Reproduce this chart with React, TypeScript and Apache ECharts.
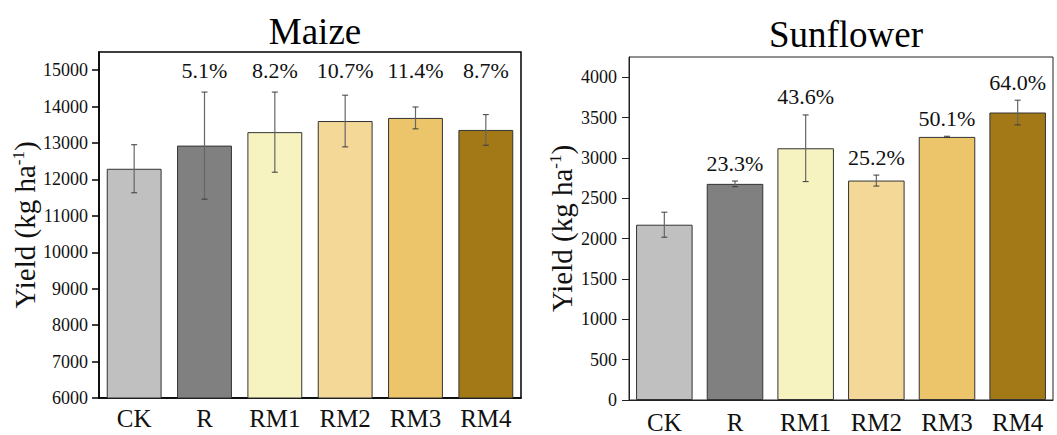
import React, { useEffect, useRef } from "react";
import * as echarts from "echarts";

const categories = ["CK", "R", "RM1", "RM2", "RM3", "RM4"];
const barColors = ["#C0C0C0", "#808080", "#F7F3C1", "#F3D898", "#ECC56B", "#A37816"];

const maizeYield = [12294, 12930, 13300, 13605, 13690, 13360];
const maizeErr = [660, 1470, 1100, 710, 300, 420];
const maizeIncrease = ["", "5.1%", "8.2%", "10.7%", "11.4%", "8.7%"];
const maizeTicks = [6000, 7000, 8000, 9000, 10000, 11000, 12000, 13000, 14000, 15000];

const sunYield = [2172, 2678, 3119, 2719, 3260, 3562];
const sunErr = [155, 35, 413, 68, 8, 153];
const sunIncrease = ["", "23.3%", "43.6%", "25.2%", "50.1%", "64.0%"];
const sunTicks = [0, 500, 1000, 1500, 2000, 2500, 3000, 3500, 4000];

const FONT = "Liberation Serif";

export default function App() {
  const ref = useRef<HTMLDivElement>(null);
  useEffect(() => {
    if (!ref.current) return;
    const chart = echarts.init(ref.current, null, { renderer: "svg" });

    const errRender = (params: any, api: any) => {
      const x = api.value(0);
      const lo = api.coord([x, api.value(1)]);
      const hi = api.coord([x, api.value(2)]);
      const hw = 3;
      const st = { stroke: "#3a3a3a", lineWidth: 1 };
      return {
        type: "group",
        children: [
          { type: "line", shape: { x1: hi[0], y1: hi[1], x2: lo[0], y2: lo[1] }, style: { stroke: "#666", lineWidth: 1.2 } },
          { type: "line", shape: { x1: hi[0] - hw, y1: hi[1], x2: hi[0] + hw, y2: hi[1] }, style: st },
          { type: "line", shape: { x1: lo[0] - hw, y1: lo[1], x2: lo[0] + hw, y2: lo[1] }, style: st },
        ],
      };
    };

    const labelRender = (fixedY: boolean) => (params: any, api: any) => {
      const idx = params.dataIndex;
      const p = api.coord([api.value(0), api.value(1)]);
      const text = fixedY ? maizeIncrease[idx] : sunIncrease[idx];
      return {
        type: "text",
        x: p[0],
        y: fixedY ? p[1] : p[1] - 7,
        style: {
          text,
          fontSize: 22,
          fontFamily: FONT,
          fill: "#111",
          align: "center",
          verticalAlign: fixedY ? "middle" : "bottom",
        },
      };
    };

    const xAxisCommon = {
      type: "category",
      data: categories,
      axisLine: { lineStyle: { color: "#000", width: 1.5 } },
      axisTick: { alignWithLabel: true, length: 6, lineStyle: { color: "#000", width: 1.5 } },
      axisLabel: { fontSize: 25, fontFamily: FONT, color: "#111" },
    };

    const nameStyle = {
      fontSize: 29,
      fontFamily: FONT,
      color: "#111",
      rich: {
        main: { fontSize: 29, fontFamily: FONT, color: "#111" },
        sup: { fontSize: 17, fontFamily: FONT, color: "#111", verticalAlign: "top" },
      },
    };

    const yAxisCommon = {
      type: "value",
      name: "{main|Yield (kg ha}{sup|-1}{main|)}",
      nameLocation: "middle",
      nameTextStyle: nameStyle,
      splitLine: { show: false },
      axisLine: { show: true, lineStyle: { color: "#000", width: 1.5 } },
    };

    const fmt = (v: number) => String(v);

    const option: any = {
      animation: false,
      backgroundColor: "#fff",
      textStyle: { fontFamily: FONT },
      graphic: [
        { type: "text", x: 315, y: 31, style: { text: "Maize", fontSize: 37, fontFamily: FONT, fill: "#000", align: "center", verticalAlign: "middle" } },
        { type: "text", x: 846, y: 34, style: { text: "Sunflower", fontSize: 37, fontFamily: FONT, fill: "#000", align: "center", verticalAlign: "middle" } },
      ],
      grid: [
        { left: 99, top: 52, width: 422, height: 346, show: true, borderColor: "#000", borderWidth: 1.5, backgroundColor: "transparent" },
        { left: 629, top: 57, width: 424, height: 346, show: true, borderColor: "#222", borderWidth: 1, backgroundColor: "transparent" },
      ],
      xAxis: [
        { ...xAxisCommon, gridIndex: 0, axisLabel: { ...xAxisCommon.axisLabel, margin: 8 } },
        { ...xAxisCommon, gridIndex: 1, axisLine: { lineStyle: { color: "#222", width: 1 } }, axisTick: { alignWithLabel: true, length: 6, lineStyle: { color: "#222", width: 1 } }, axisLabel: { ...xAxisCommon.axisLabel, margin: 10 } },
      ],
      yAxis: [
        {
          ...yAxisCommon,
          gridIndex: 0,
          min: 6000,
          max: 15500,
          interval: 1000,
          nameGap: 60,
          axisTick: { show: true, length: 7, customValues: maizeTicks, lineStyle: { color: "#000", width: 1.5 } },
          axisLabel: { customValues: maizeTicks, formatter: fmt, fontSize: 18, fontFamily: FONT, color: "#111", margin: 11 },
        },
        {
          ...yAxisCommon,
          gridIndex: 1,
          min: 0,
          max: 4250,
          interval: 500,
          nameGap: 53,
          axisLine: { show: true, lineStyle: { color: "#222", width: 1 } },
          axisTick: { show: true, length: 7, customValues: sunTicks, lineStyle: { color: "#222", width: 1 } },
          axisLabel: { customValues: sunTicks, formatter: fmt, fontSize: 18, fontFamily: FONT, color: "#111", margin: 12 },
        },
      ],
      series: [
        {
          type: "bar",
          xAxisIndex: 0,
          yAxisIndex: 0,
          barCategoryGap: "22%",
          data: maizeYield.map((v, i) => ({ value: v, itemStyle: { color: barColors[i] } })),
          itemStyle: { borderColor: "#333", borderWidth: 1 },
        },
        {
          type: "custom",
          xAxisIndex: 0,
          yAxisIndex: 0,
          renderItem: errRender,
          data: maizeYield.map((v, i) => [i, v - maizeErr[i], v + maizeErr[i]]),
          z: 5,
        },
        {
          type: "custom",
          xAxisIndex: 0,
          yAxisIndex: 0,
          renderItem: labelRender(true),
          data: maizeYield.map((v, i) => [i, 15000]),
          z: 6,
        },
        {
          type: "bar",
          xAxisIndex: 1,
          yAxisIndex: 1,
          barCategoryGap: "20%",
          data: sunYield.map((v, i) => ({ value: v, itemStyle: { color: barColors[i] } })),
          itemStyle: { borderColor: "#333", borderWidth: 1 },
        },
        {
          type: "custom",
          xAxisIndex: 1,
          yAxisIndex: 1,
          renderItem: errRender,
          data: sunYield.map((v, i) => [i, v - sunErr[i], v + sunErr[i]]),
          z: 5,
        },
        {
          type: "custom",
          xAxisIndex: 1,
          yAxisIndex: 1,
          renderItem: labelRender(false),
          data: sunYield.map((v, i) => [i, v + sunErr[i]]),
          z: 6,
        },
      ],
    };

    chart.setOption(option);
    return () => chart.dispose();
  }, []);

  return (
    <div
      ref={ref}
      style={{ position: "fixed", left: 0, top: 0, width: 1057, height: 435, background: "#fff" }}
    />
  );
}
